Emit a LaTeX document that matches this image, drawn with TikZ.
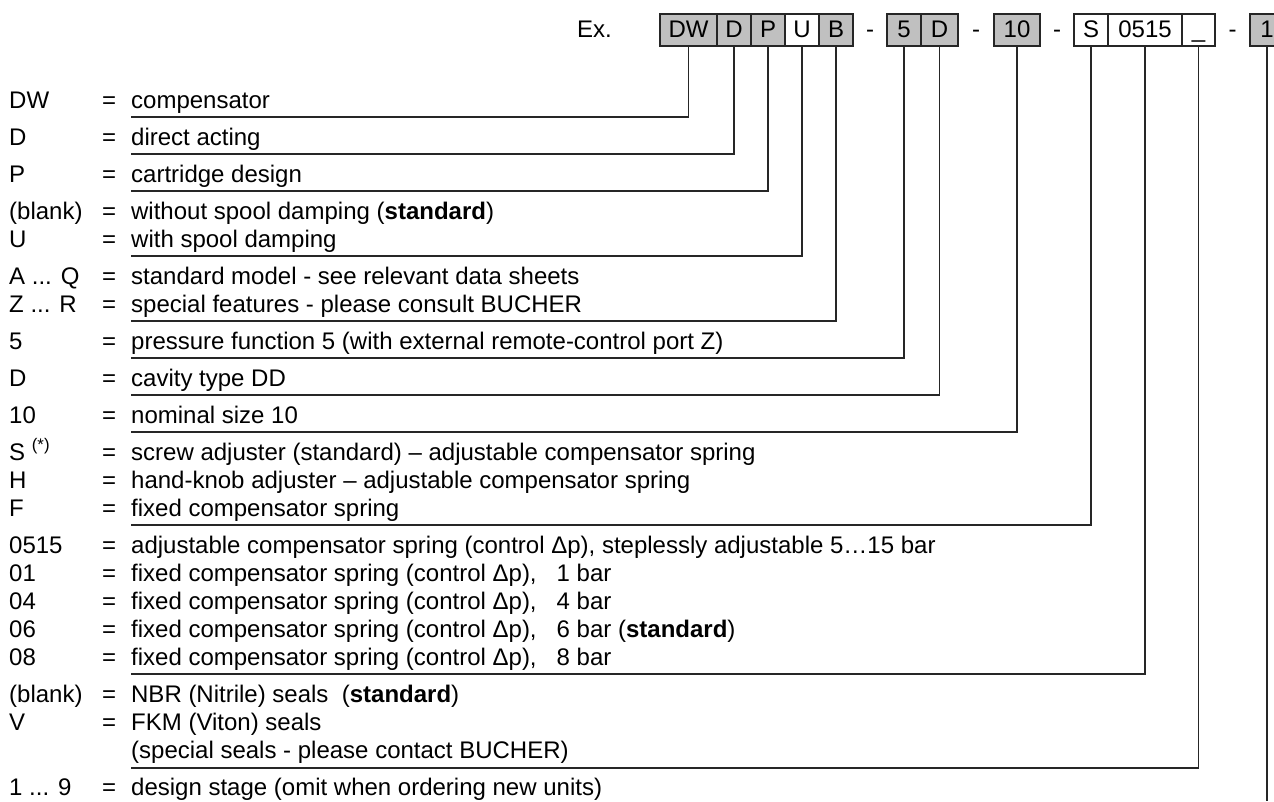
\documentclass[tikz,border=0pt]{standalone}
\usepackage{fontspec}
\setmainfont{Liberation Sans}
\usetikzlibrary{positioning, calc}
\usepackage{xcolor}
\definecolor{fieldgray}{RGB}{192,192,192}
\tikzstyle{field} = [
rectangle,
draw=black!85,
fill=fieldgray,
line width=1.1pt,
minimum width=34pt,
minimum height=32pt,
inner sep=0pt,
outer sep=0pt,
text height=17pt,
text depth=3pt,
font=\fontsize{24}{28}\selectfont
]
\tikzstyle{free} = [field, fill=white]
\tikzstyle{item} = [anchor=base west, inner sep=0pt]
\tikzstyle{lead} = [line width=1.1pt, draw=black!85]
\newcommand{\lab}[1]{\makebox[93pt][l]{#1}\makebox[29pt][l]{=}}

\begin{document}
\begin{tikzpicture}[x=1pt, y=-1pt, font=\fontsize{24}{28}\selectfont]
        \useasboundingbox (0,0) rectangle (1274,801);
        
        % code boxes
        \node (dw) [field, minimum width=57pt, anchor=north west] at (660,14) {DW};
        \node (d1) [field, right=0pt of dw] {D};
        \node (p1) [field, right=0pt of d1] {P};
        \node (u1) [free, right=0pt of p1] {U};
        \node (b1) [field, right=0pt of u1] {B};
        \node (f5) [field, right=34pt of b1] {5};
        \node (dd) [field, minimum width=37pt, right=0pt of f5] {D};
        \node (s10) [field, minimum width=46pt, right=36pt of dd] {10};
        \node (sa) [free, right=34pt of s10] {S};
        \node (sp) [free, minimum width=74pt, right=0pt of sa] {0515};
        \node (sl) [free, minimum width=33pt, right=0pt of sp] {\_};
        \node (ds) [field, right=35pt of sl] {1};
        
        \node (ex) [inner sep=0pt, anchor=base east] at ($(dw.base west)+(-48,0)$) {Ex.};
        \node (m1) [anchor=base] at ($(b1.base east)!0.5!(f5.base west)$) {-};
        \node (m2) [anchor=base] at ($(dd.base east)!0.5!(s10.base west)$) {-};
        \node (m3) [anchor=base] at ($(s10.base east)!0.5!(sa.base west)$) {-};
        \node (m4) [anchor=base] at ($(sl.base east)!0.5!(ds.base west)$) {-};
        
        % legend
        \node (rDW) [item] at (9,108) {\lab{DW}compensator};
        \node (rD) [item] at (9,145) {\lab{D}direct acting};
        \node (rP) [item] at (9,182) {\lab{P}cartridge design};
        \node (rBl) [item] at (9,219) {\lab{(blank)}without spool damping (\textbf{standard})};
        \node (rU) [item] at (9,247) {\lab{U}with spool damping};
        \node (rAQ) [item] at (9,284) {\lab{A ... Q}standard model - see relevant data sheets};
        \node (rZR) [item] at (9,312) {\lab{Z ... R}special features - please consult BUCHER};
        \node (rF5) [item] at (9,349) {\lab{5}pressure function 5 (with external remote-control port Z)};
        \node (rDD) [item] at (9,386) {\lab{D}cavity type DD};
        \node (r10) [item] at (9,423) {\lab{10}nominal size 10};
        \node (rS) [item] at (9,460) {\lab{S \textsuperscript{(*)}}screw adjuster (standard) – adjustable compensator spring};
        \node (rH) [item] at (9,488) {\lab{H}hand-knob adjuster – adjustable compensator spring};
        \node (rF) [item] at (9,516) {\lab{F}fixed compensator spring};
        \node (r0515) [item] at (9,553) {\lab{0515}adjustable compensator spring (control Δp), steplessly adjustable 5…15 bar};
        \node (r01) [item] at (9,581) {\lab{01}fixed compensator spring (control Δp),\ \ \ 1 bar};
        \node (r04) [item] at (9,609) {\lab{04}fixed compensator spring (control Δp),\ \ \ 4 bar};
        \node (r06) [item] at (9,637) {\lab{06}fixed compensator spring (control Δp),\ \ \ 6 bar (\textbf{standard})};
        \node (r08) [item] at (9,665) {\lab{08}fixed compensator spring (control Δp),\ \ \ 8 bar};
        \node (rNBR) [item] at (9,702) {\lab{(blank)}NBR (Nitrile) seals\ \ (\textbf{standard})};
        \node (rV) [item] at (9,730) {\lab{V}FKM (Viton) seals};
        \node (rSp) [item] at (131,758) {(special seals - please contact BUCHER)};
        \node (r19) [item] at (9,795) {\lab{1 ... 9}design stage (omit when ordering new units)};
        
        % leader lines
        \coordinate (uDW) at (131,117);
        \coordinate (uD) at (131,154);
        \coordinate (uP) at (131,191);
        \coordinate (uU) at (131,256);
        \coordinate (uB) at (131,321);
        \coordinate (u5) at (131,358);
        \coordinate (uDD) at (131,395);
        \coordinate (u10) at (131,432);
        \coordinate (uS) at (131,525);
        \coordinate (uSp) at (131,674);
        \coordinate (uSl) at (131,768);
        \coordinate (bottom) at (0,801);
        
        \draw [lead] (dw.south) |- (uDW);
        \draw [lead] (d1.south) |- (uD);
        \draw [lead] (p1.south) |- (uP);
        \draw [lead] (u1.south) |- (uU);
        \draw [lead] (b1.south) |- (uB);
        \draw [lead] (f5.south) |- (u5);
        \draw [lead] (dd.south) |- (uDD);
        \draw [lead] (s10.south) |- (u10);
        \draw [lead] (sa.south) |- (uS);
        \draw [lead] (sp.south) |- (uSp);
        \draw [lead] (sl.south) |- (uSl);
        \draw [lead] (ds.south) -- (ds.south |- bottom);
        
\end{tikzpicture}
\end{document}
